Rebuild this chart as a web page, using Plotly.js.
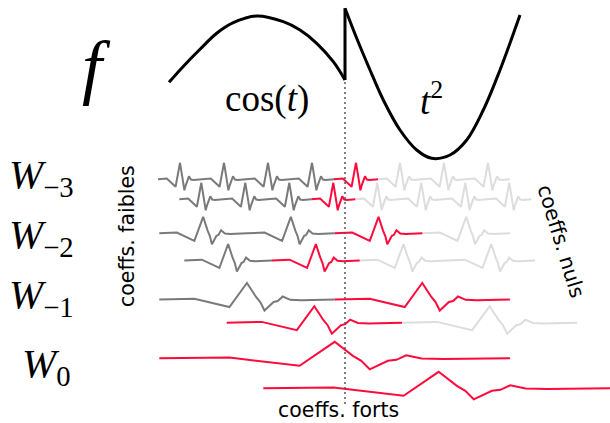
<!DOCTYPE html>
<html><head><meta charset="utf-8">
<script src="https://cdn.plot.ly/plotly-3.0.1.min.js"></script>
<style>html,body{margin:0;padding:0;background:#fff}#chart{width:610px;height:423px}</style>
</head><body><div id="chart"></div>
<script>
// ---------- data ----------
// the signal f : cos(t) branch, then t^2 branch (t, value; value axis points down)
const cosT = [169, 183, 200, 216.7, 233.3, 256.7, 283.3, 300, 316.7, 333.3, 345];
const cosV = [82.3, 66.7, 49.3, 33.3, 22.7, 16, 21.7, 30, 43.3, 61.7, 80];
const sqT  = [345, 356.7, 370, 383.3, 400, 416.7, 431.7, 450, 466.7, 483.3, 500, 520];
const sqV  = [8.3, 38.3, 70, 100, 130, 150, 158.3, 155, 140, 110, 70, 15];
const jumpT = 345;            // location of the discontinuity

// wavelet shape drawn for each coefficient (offset in support units, amplitude)
const psiU = [-0.5, -0.3, -0.1, -0.062, -0.029, 0, 0.052, 0.076, 0.1, 0.128, 0.152, 0.176, 0.204, 0.248, 0.31, 0.5];
const psiV = [0, 0.8, -7.5, 1.3, 9, 16.5, 2.5, -2.5, -11, -6.3, -2.5, -1.5, 3, -0.3, -0.8, 0];

// coefficient classes per level (two interleaved rows): g = faible, r = fort, l = nul
const levelSubs = ['−3', '−2', '−1', '0'];
const classW3 = ['ggggrlll', 'gggrllll'];
const classW2 = ['ggrl', 'grll'];
const classW1 = ['gr', 'rl'];
const classW0 = ['r', 'r'];

// ---------- layout geometry ----------
const rowLayout = [
  {start: [158, 179.3],   width: 44,    base: [179.3, 199.3], cls: classW3, label: [7, 177]},
  {start: [159.3, 184.3], width: 87.7,  base: [233.3, 260.5], cls: classW2, label: [7, 237]},
  {start: [159.3, 226.7], width: 175.3, base: [299.5, 322.7], cls: classW1, label: [7, 297]},
  {start: [159.3, 263.3], width: 350.7, base: [358.3, 388.3], cls: classW0, label: [20, 366]}
];
const colorOf = {g: '#7a7a7a', r: '#ff0a3c', l: '#dddddd'};

const acc = {g: {x: [], y: []}, r: {x: [], y: []}, l: {x: [], y: []}};
rowLayout.forEach(row => {
  for (let s = 0; s < 2; s++) {
    const cls = row.cls[s];
    let prev = null;
    for (let k = 0; k < cls.length; k++) {
      const c = cls[k];
      const x0 = row.start[s] + (k + 0.5) * row.width;
      const pts = psiU.map((u, i) => [x0 + u * row.width, row.base[s] - psiV[i]]);
      if (c !== prev) {
        if (prev) { acc[prev].x.push(null); acc[prev].y.push(null); }
      } else {
        pts.shift();
      }
      pts.forEach(p => { acc[c].x.push(p[0]); acc[c].y.push(p[1]); });
      prev = c;
    }
    acc[prev].x.push(null); acc[prev].y.push(null);
  }
});

const traces = [];
['l', 'g', 'r'].forEach(c => traces.push({
  type: 'scatter', mode: 'lines', x: acc[c].x, y: acc[c].y, connectgaps: false,
  line: {color: colorOf[c], width: 2}, hoverinfo: 'skip'
}));
traces.push({type: 'scatter', mode: 'lines', x: [jumpT, jumpT], y: [82, 404],
  line: {color: '#555', width: 1.5, dash: '2px,3px'}, hoverinfo: 'skip'});
traces.push({type: 'scatter', mode: 'lines', x: cosT, y: cosV,
  line: {color: '#000', width: 3, shape: 'spline'}, hoverinfo: 'skip'});
traces.push({type: 'scatter', mode: 'lines', x: [jumpT, jumpT], y: [cosV[cosV.length - 1], sqV[0]],
  line: {color: '#000', width: 3}, hoverinfo: 'skip'});
traces.push({type: 'scatter', mode: 'lines', x: sqT, y: sqV,
  line: {color: '#000', width: 3, shape: 'spline'}, hoverinfo: 'skip'});

const serif = 'Liberation Serif, Times New Roman, serif';
const sans = 'DejaVu Sans, sans-serif';
const ann = [];
function addText(text, x, y, size, family, opts) {
  ann.push(Object.assign({text, x, y, xref: 'x', yref: 'y', showarrow: false,
    xanchor: 'center', yanchor: 'middle', font: {size, family, color: '#000'}}, opts || {}));
}
addText('<i>f</i>', 96, 67, 72, serif);
addText('cos(<i>t</i>)', 267, 99, 37, serif);
addText('<i>t</i><sup>2</sup>', 431, 98, 37, serif);
rowLayout.forEach((row, i) => addText('<i>W</i><sub>' + levelSubs[i] + '</sub>', row.label[0], row.label[1], 41, serif, {xanchor: 'left'}));
addText('coeffs. faibles', 127, 236, 20.5, sans, {textangle: -90});
addText('coeffs. nuls', 561, 241, 20.5, sans, {textangle: 73});
addText('coeffs. forts', 338, 410, 20.5, sans);

const layout = {
  width: 610, height: 423, margin: {l: 0, r: 0, t: 0, b: 0},
  paper_bgcolor: '#fff', plot_bgcolor: '#fff', showlegend: false,
  xaxis: {range: [0, 610], visible: false, fixedrange: true},
  yaxis: {range: [423, 0], visible: false, fixedrange: true},
  annotations: ann
};
Plotly.newPlot('chart', traces, layout, {staticPlot: true, displayModeBar: false});
</script>
</body></html>
